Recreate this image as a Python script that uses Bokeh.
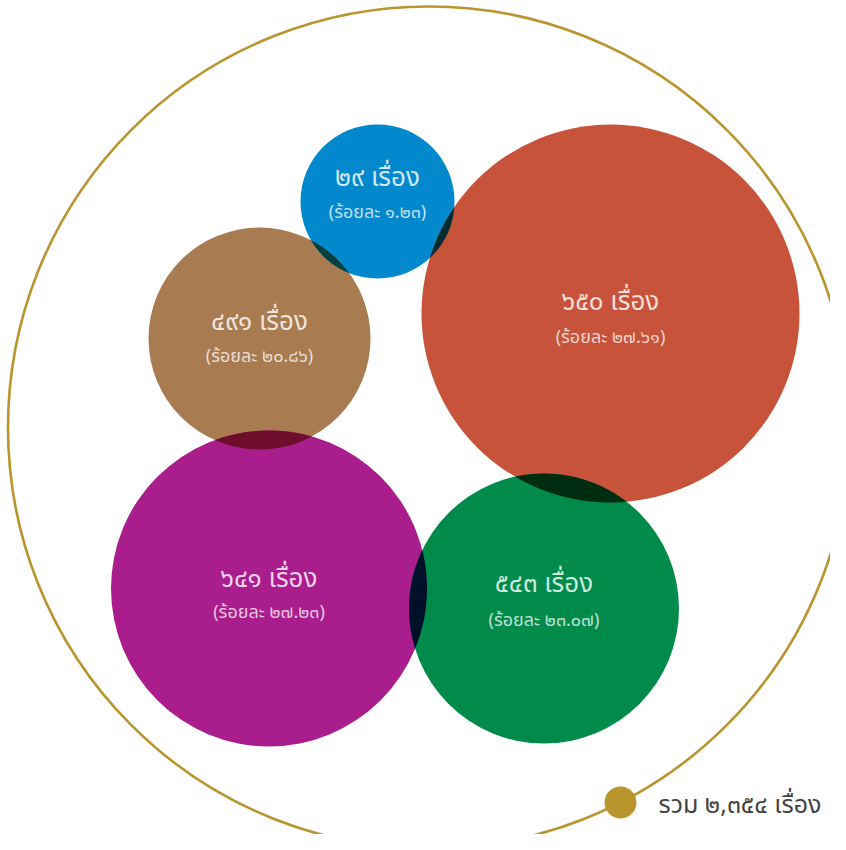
import numpy as np
from bokeh.plotting import figure
from bokeh.models import Range1d, ColumnDataSource
from bokeh.embed import file_html
from bokeh.resources import INLINE
from bokeh.core.properties import value

# ---- data ----
counts = [29, 650, 491, 641, 543]
percents = [1.23, 27.61, 20.86, 27.23, 23.07]
total = 2354
unit = "เรื่อง"
pct_word = "ร้อยละ"
total_word = "รวม"

# ---- styles / layout (picture pixel coordinates) ----
colors = ["#0288CC", "#C8533B", "#A87B50", "#A91E8C", "#008B4B"]
gold = "#BA952E"
cx = [377, 610, 259, 268.5, 543.5]
cy = [201, 313, 338, 588, 608]
rad = [77, 189, 111, 158, 135]
count_y = [177, 301, 321, 578, 583]
pct_y = [212, 337, 356, 612, 620]
outer_c = (428.5, 427)
outer_r = 421
dot_xy = (620, 802)
dot_r = 16
FONT = "Noto Sans Thai, Noto Sans, sans-serif"

TH = str.maketrans("0123456789", "๐๑๒๓๔๕๖๗๘๙")


def th(s):
    return s.translate(TH)


count_labels = [th(str(c)) + " " + unit for c in counts]
pct_labels = ["(" + pct_word + " " + th(f"{p:.2f}") + ")" for p in percents]
total_label = total_word + " " + th(f"{total:,}") + " " + unit


def hex2rgb(h):
    h = h.lstrip("#")
    return np.array([int(h[i:i + 2], 16) for i in (0, 2, 4)], dtype=float)


def multiply(c1, c2):
    m = hex2rgb(c1) * hex2rgb(c2) / 255.0
    return "#%02x%02x%02x" % tuple(int(round(v)) for v in m)


# lens-shaped overlaps, drawn in the multiplied colour
lens_xs, lens_ys, lens_cols = [], [], []
n = len(counts)
for i in range(n):
    for j in range(i + 1, n):
        dx, dy = cx[j] - cx[i], cy[j] - cy[i]
        d = np.hypot(dx, dy)
        ri, rj = rad[i], rad[j]
        if d >= ri + rj or d <= abs(ri - rj):
            continue
        tij = np.arctan2(dy, dx)
        tji = tij + np.pi
        ai = np.arccos((d * d + ri * ri - rj * rj) / (2 * d * ri))
        aj = np.arccos((d * d + rj * rj - ri * ri) / (2 * d * rj))
        t1 = np.linspace(tij - ai, tij + ai, 80)
        t2 = np.linspace(tji - aj, tji + aj, 80)
        xs = np.concatenate([cx[i] + ri * np.cos(t1), cx[j] + rj * np.cos(t2)])
        ys = np.concatenate([cy[i] + ri * np.sin(t1), cy[j] + rj * np.sin(t2)])
        lens_xs.append(list(xs))
        lens_ys.append(list(ys))
        lens_cols.append(multiply(colors[i], colors[j]))

W, H = 830, 834
p = figure(width=W, height=H, output_backend="svg", toolbar_location=None,
           x_range=Range1d(0, W), y_range=Range1d(H, 0),
           min_border=0, outline_line_color=None, background_fill_color="white",
           border_fill_color="white")
p.axis.visible = False
p.grid.visible = False

p.circle(x=[outer_c[0]], y=[outer_c[1]], radius=outer_r, fill_color=None,
         line_color=gold, line_width=2.6)

src = ColumnDataSource(dict(x=cx, y=cy, r=rad, c=colors, cy_=count_y, py=pct_y,
                            cl=count_labels, pl=pct_labels))
p.circle(x="x", y="y", radius="r", fill_color="c", line_color=None, source=src)
p.patches(lens_xs, lens_ys, fill_color=lens_cols, line_color=None)

p.text(x="x", y="cy_", text="cl", source=src, text_align="center",
       text_baseline="middle", text_font=value(FONT), text_font_size="26px",
       text_color="white", text_alpha=0.82)
p.text(x="x", y="py", text="pl", source=src, text_align="center",
       text_baseline="middle", text_font=value(FONT), text_font_size="18px",
       text_color="white", text_alpha=0.75)

p.circle(x=[dot_xy[0]], y=[dot_xy[1]], radius=dot_r, fill_color=gold, line_color=None)
p.text(x=[658], y=[804], text=[total_label], text_align="left",
       text_baseline="middle", text_font=value(FONT), text_font_size="25px",
       text_color="#444444")

open("out.html", "w").write(file_html(p, INLINE))
